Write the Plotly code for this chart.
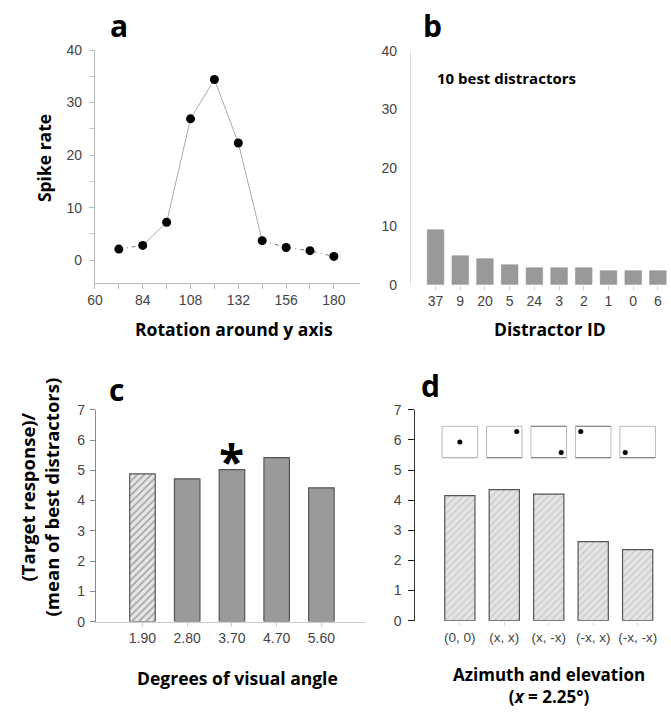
import plotly.graph_objects as go

W, H = 671, 713

# ---------------- data ----------------
rotation = [72, 84, 96, 108, 120, 132, 144, 156, 168, 180]
spike_rate = [2.1, 2.8, 7.2, 26.9, 34.4, 22.3, 3.7, 2.4, 1.8, 0.7]
solid_idx = [1, 2, 3, 4, 5, 6]
dotted_left_idx = [0, 1]
dotted_right_idx = [6, 7, 8, 9]

distractor_ids = ["37", "9", "20", "5", "24", "3", "2", "1", "0", "6"]
distractor_rates = [9.4, 4.95, 4.45, 3.4, 2.9, 2.9, 2.9, 2.4, 2.4, 2.4]

visual_angles = ["1.90", "2.80", "3.70", "4.70", "5.60"]
angle_ratios = [4.88, 4.72, 5.02, 5.42, 4.42]
angle_hatched = [True, False, False, False, False]
starred_index = 2

positions = ["(0, 0)", "(x, x)", "(x, -x)", "(-x, x)", "(-x, -x)"]
position_ratios = [4.15, 4.35, 4.2, 2.62, 2.36]
icon_dx = [0, 1, 1, -1, -1]
icon_dy = [0, 1, -1, 1, -1]

# ---------------- helpers ----------------
def fx(p):
    return p / W

def fy(p):
    return 1 - p / H

TICKFONT = dict(family="Liberation Sans, Arial, sans-serif", size=14, color="#444")
BOLD = "Open Sans, Noto Sans, sans-serif"

fig = go.Figure()

# ---------------- panel a ----------------
def seg(idx):
    return [rotation[i] for i in idx], [spike_rate[i] for i in idx]

xs, ys = seg(solid_idx)
fig.add_trace(go.Scatter(x=xs, y=ys, mode="lines", line=dict(color="#aaa", width=1),
                         xaxis="x", yaxis="y", showlegend=False, hoverinfo="skip"))
for idx in (dotted_left_idx, dotted_right_idx):
    xs, ys = seg(idx)
    fig.add_trace(go.Scatter(x=xs, y=ys, mode="lines",
                             line=dict(color="#777", width=1, dash="4px,4px,1px,4px"),
                             xaxis="x", yaxis="y", showlegend=False, hoverinfo="skip"))
fig.add_trace(go.Scatter(x=rotation, y=spike_rate, mode="markers",
                         marker=dict(color="black", size=9, symbol="circle"),
                         xaxis="x", yaxis="y", showlegend=False))

# ---------------- panel b ----------------
fig.add_trace(go.Bar(x=distractor_ids, y=distractor_rates, width=0.67,
                     marker=dict(color="#999", line=dict(color="#8a8a8a", width=0.5)),
                     xaxis="x2", yaxis="y2", showlegend=False))

# ---------------- panel c ----------------
c_colors = ["#e4e4e4" if h else "#9a9a9a" for h in angle_hatched]
c_shapes = ["/" if h else "" for h in angle_hatched]
fig.add_trace(go.Bar(x=visual_angles, y=angle_ratios, width=0.57,
                     marker=dict(color=c_colors,
                                 pattern=dict(shape=c_shapes, fgcolor="#aaa", size=5, solidity=0.25),
                                 line=dict(color="#555", width=1.2)),
                     xaxis="x3", yaxis="y3", showlegend=False))

# ---------------- panel d ----------------
fig.add_trace(go.Bar(x=positions, y=position_ratios, width=0.68,
                     marker=dict(color="#e4e4e4",
                                 pattern=dict(shape="/", fgcolor="#aaa", size=5, solidity=0.25),
                                 line=dict(color="#555", width=1.2)),
                     xaxis="x4", yaxis="y4", showlegend=False))

# icon dots (on a linear overlay axis matching the category positions of panel d)
icon_cy = 5.93
fig.add_trace(go.Scatter(x=[i + 0.28 * dx for i, dx in enumerate(icon_dx)],
                         y=[icon_cy + 0.35 * dy for dy in icon_dy],
                         mode="markers", marker=dict(color="black", size=5),
                         xaxis="x5", yaxis="y4", showlegend=False, hoverinfo="skip"))

shapes = []
for i in range(len(positions)):
    shapes.append(dict(type="rect", xref="x5", yref="y4", x0=i - 0.4, x1=i + 0.4,
                       y0=5.41, y1=6.45, line=dict(color="#bbb", width=1)))
    shapes.append(dict(type="line", xref="x5", yref="y4", x0=i - 0.4, x1=i + 0.4,
                       y0=5.41, y1=5.41, line=dict(color="#888" if i > 0 else "#bbb", width=1.2)))
    if i in (2, 3):
        shapes.append(dict(type="line", xref="x5", yref="y4", x0=i - 0.4, x1=i + 0.4,
                           y0=6.45, y1=6.45, line=dict(color="#888", width=1.2)))

# ---------------- axes ----------------
def dom_x(a, b):
    return [fx(a), fx(b)]

def dom_y(top, bottom):
    return [fy(bottom), fy(top)]

D_RANGE = [-1.0, 4.75]
layout_axes = dict(
    xaxis=dict(domain=dom_x(88, 356), range=[60, 193], anchor="y",
               tickvals=list(range(60, 181, 12)),
               ticktext=[str(v) if (v - 60) % 24 == 0 else "" for v in range(60, 181, 12)],
               ticks="outside", ticklen=5, tickcolor="#bbb", showline=True, linecolor="#bbb",
               showgrid=False, zeroline=False, tickfont=TICKFONT, tickangle=0),
    yaxis=dict(domain=dom_y(43, 281), range=[-4.3, 40], anchor="x",
               tickvals=[0, 10, 20, 30, 40], ticks="outside", ticklen=5, tickcolor="#bbb",
               minor=dict(tickvals=[5, 15, 25, 35], ticks="outside", ticklen=5, tickcolor="#ccc"),
               showline=True, linecolor="#bbb", showgrid=False, zeroline=False,
               tickfont=TICKFONT, ticklabelstandoff=4),
    xaxis2=dict(domain=dom_x(407.7, 671), range=[-1, 9.53], anchor="y2", type="category",
                ticks="outside", ticklen=4, tickcolor="#ccc", showline=False,
                showgrid=False, zeroline=False, tickfont=TICKFONT, tickangle=0),
    yaxis2=dict(domain=dom_y(44, 283), range=[0, 40], anchor="x2",
                tickvals=[0, 10, 20, 30, 40], ticks="", showline=True, linecolor="#ddd",
                showgrid=False, zeroline=False, tickfont=TICKFONT, ticklabelstandoff=10),
    xaxis3=dict(domain=dom_x(89, 362), range=[-1.04, 4.99], anchor="y3", type="category",
                ticks="outside", ticklen=4, tickcolor="#ccc", showline=True, linecolor="#ccc",
                showgrid=False, zeroline=False, tickfont=TICKFONT, tickangle=0),
    yaxis3=dict(domain=dom_y(411, 627.7), range=[0, 7], anchor="x3",
                dtick=1, ticks="outside", ticklen=5, tickcolor="#888",
                showline=True, linecolor="#888", showgrid=False, zeroline=False,
                tickfont=TICKFONT, ticklabelstandoff=2),
    xaxis4=dict(domain=dom_x(412.3, 671), range=D_RANGE, anchor="y4", type="category",
                ticks="outside", ticklen=4, tickcolor="#ddd", showline=False,
                showgrid=False, zeroline=False, tickfont=dict(TICKFONT, size=13.5), tickangle=0),
    xaxis5=dict(domain=dom_x(412.3, 671), range=D_RANGE, anchor="y4", overlaying="x4",
                visible=False, showgrid=False, zeroline=False),
    yaxis4=dict(domain=dom_y(411, 626.7), range=[0, 7], anchor="x4",
                dtick=1, ticks="outside", ticklen=6, tickcolor="#222",
                showline=True, linecolor="#333", linewidth=1.2, showgrid=False, zeroline=False,
                tickfont=TICKFONT, ticklabelstandoff=4),
)

# ---------------- annotations ----------------
def ann(text, x, y, size, angle=0, xanchor="center", yanchor="middle", align="center", **kw):
    return dict(text=text, x=fx(x), y=fy(y), xref="paper", yref="paper", showarrow=False,
                font=dict(family=BOLD, size=size, color="black", weight="bold"),
                textangle=angle, xanchor=xanchor, yanchor=yanchor, align=align, **kw)

annotations = [
    ann("a", 112, 18, 30),
    ann("b", 430, 18, 30),
    ann("c", 110, 390, 30),
    ann("d", 428, 386, 30),
    ann("Spike rate", 36, 154, 17.5, angle=-90),
    ann("Rotation around y axis", 229, 328, 17.5),
    ann("Distractor ID", 549, 328, 17.5),
    ann("10 best distractors", 432, 72, 15, xanchor="left"),
    ann("(Target response)/<br>(mean of best distractors)", 32, 500, 18.5, angle=-90),
    ann("Degrees of visual angle", 232, 685, 17.5),
    ann("Azimuth and elevation<br>(<i>x</i> = 2.25\u00b0)", 548, 693, 17),
    dict(text="*", x=starred_index, y=5.58, xref="x3", yref="y3", showarrow=False,
         font=dict(family=BOLD, size=46, color="black", weight="bold"),
         xanchor="center", yanchor="middle", yshift=-8),
]

fig.update_layout(
    width=W, height=H, margin=dict(l=0, r=0, t=0, b=0),
    paper_bgcolor="white", plot_bgcolor="white",
    shapes=shapes, annotations=annotations, bargap=0.3,
    **layout_axes,
)

fig.write_html("out.html", config={"displayModeBar": False},
               post_script="document.body.style.margin='0';document.body.style.overflow='hidden';")
